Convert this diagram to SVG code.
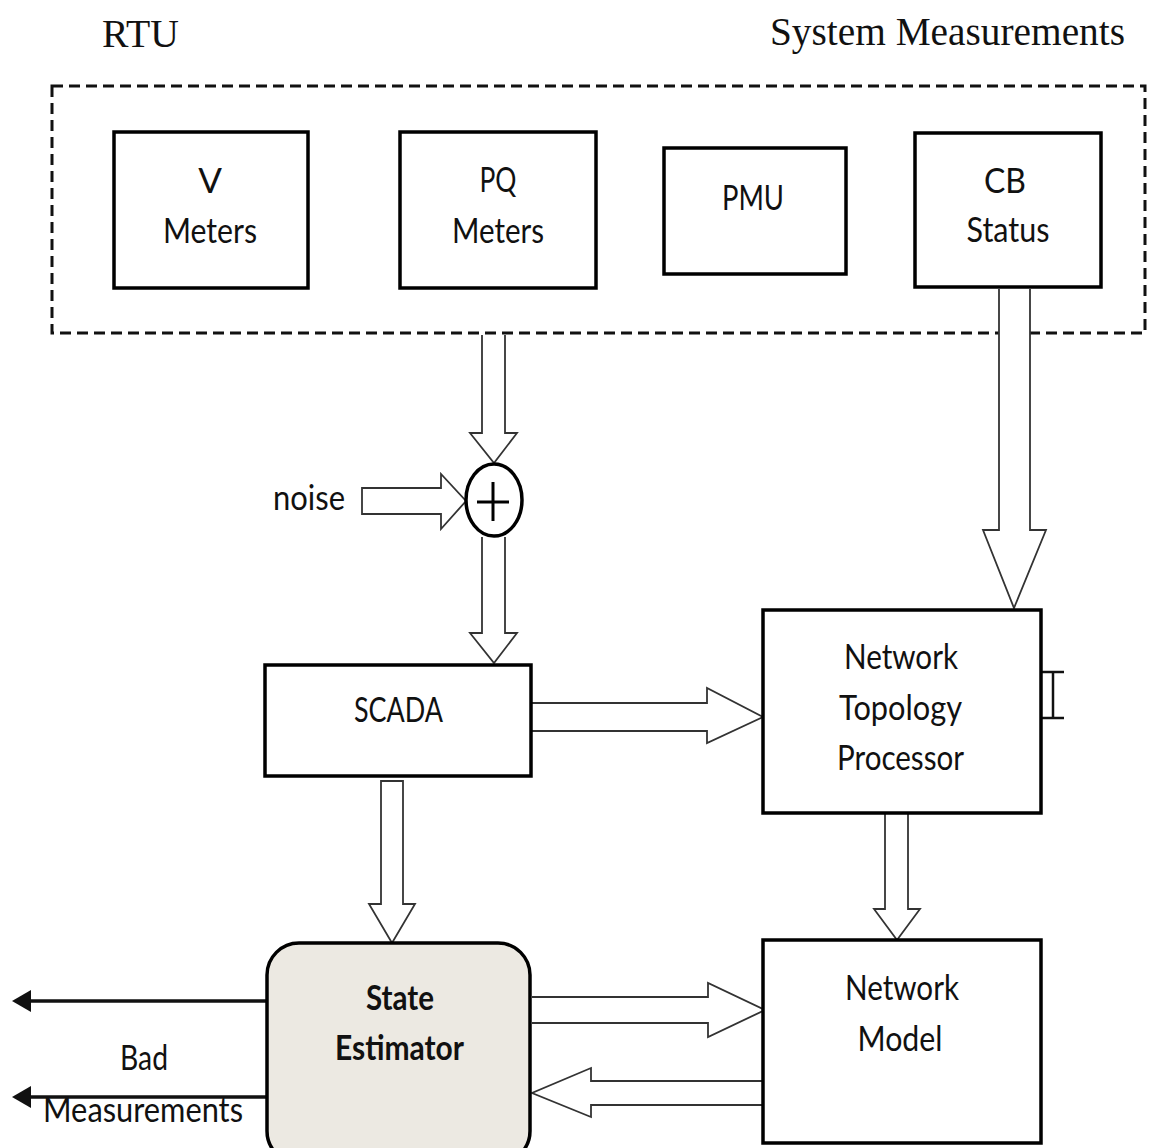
<svg xmlns="http://www.w3.org/2000/svg" width="1151" height="1148" viewBox="0 0 1151 1148">
<style>
.box{fill:#fff;stroke:#000;stroke-width:3.5}
.se{fill:#ece9e2;stroke:#000;stroke-width:3.5}
.blk{fill:#fff;stroke:#333;stroke-width:1.8;stroke-linejoin:miter}
.lbl{font-family:Lato,"Open Sans","Liberation Sans",sans-serif;font-size:35px;fill:#111;text-anchor:middle}
.bold{font-weight:bold}
.ttl{font-family:"Liberation Serif","Times New Roman",serif;font-size:41px;fill:#111}
.thin{stroke:#111;stroke-width:3.5;fill:none}
</style>
<rect width="1151" height="1148" fill="#fff"/>
<text class="ttl" x="102" y="47" textLength="77" lengthAdjust="spacingAndGlyphs">RTU</text>
<text class="ttl" x="770" y="45" textLength="355" lengthAdjust="spacingAndGlyphs">System Measurements</text>
<rect id="rtu-group" x="52" y="86" width="1093" height="247" fill="none" stroke="#111" stroke-width="3" stroke-dasharray="11 6"/>
<g id="connectors">
<polyline class="blk" points="999,289 999,530 983,530 1014,608 1046,530 1030,530 1030,289"/>
<polyline class="blk" points="482,335 482,433 470,433 494,463 517,433 505,433 505,335"/>
<polygon class="blk" points="362,488 441,488 441,474 466,501 441,529 441,514 362,514"/>
<polyline class="blk" points="482,537 482,633 470,633 494,663 517,633 505,633 505,537"/>
<polygon class="blk" points="381,781 403,781 403,904 415,904 392,943 369,904 381,904"/>
<polyline class="blk" points="532,703 707,703 707,688 763,717 707,743 707,731 532,731"/>
<polyline class="blk" points="885,813 885,909 874,909 897,940 920,909 908,909 908,813"/>
<polyline class="blk" points="532,997 708,997 708,983 765,1010 708,1037 708,1023 532,1023"/>
<polyline class="blk" points="765,1081 591,1081 591,1068 532,1093 591,1117 591,1105 765,1105"/>
<line x1="766" y1="1081" x2="766" y2="1105" stroke="#000" stroke-width="4"/>
<line class="thin" x1="267" y1="1001" x2="28" y2="1001"/>
<polygon points="12,1001 31,990 31,1012" fill="#111"/>
<line class="thin" x1="267" y1="1097" x2="28" y2="1097"/>
<polygon points="12,1097 31,1086 31,1108" fill="#111"/>
<g stroke="#111" stroke-width="2.5" fill="none">
<line x1="1041" y1="672" x2="1064" y2="672"/>
<line x1="1041" y1="718" x2="1064" y2="718"/>
<line x1="1053" y1="672" x2="1053" y2="718"/>
</g>
</g>
<g id="v-meters">
<rect class="box" x="114" y="132" width="194" height="156"/>
<text class="lbl" x="210" y="193">V</text>
<text class="lbl" x="210" y="243" textLength="94" lengthAdjust="spacingAndGlyphs">Meters</text>
</g>
<g id="pq-meters">
<rect class="box" x="400" y="132" width="196" height="156"/>
<text class="lbl" x="498" y="192" textLength="37" lengthAdjust="spacingAndGlyphs">PQ</text>
<text class="lbl" x="498" y="243" textLength="92" lengthAdjust="spacingAndGlyphs">Meters</text>
</g>
<g id="pmu">
<rect class="box" x="664" y="148" width="182" height="126"/>
<text class="lbl" x="753" y="210" textLength="62" lengthAdjust="spacingAndGlyphs">PMU</text>
</g>
<g id="cb-status">
<rect class="box" x="915" y="133" width="186" height="154"/>
<text class="lbl" x="1005" y="193" textLength="42" lengthAdjust="spacingAndGlyphs">CB</text>
<text class="lbl" x="1008" y="242" textLength="83" lengthAdjust="spacingAndGlyphs">Status</text>
</g>
<g id="adder">
<ellipse cx="494" cy="500" rx="28" ry="36" fill="#fff" stroke="#000" stroke-width="3.5"/>
<line x1="477" y1="502" x2="509" y2="502" stroke="#000" stroke-width="3"/>
<line x1="493" y1="482" x2="493" y2="521" stroke="#000" stroke-width="3"/>
</g>
<g id="noise">
<text class="lbl" x="309" y="510" textLength="72" lengthAdjust="spacingAndGlyphs">noise</text>
</g>
<g id="scada">
<rect class="box" x="265" y="665" width="266" height="111"/>
<text class="lbl" x="398.5" y="722" textLength="89" lengthAdjust="spacingAndGlyphs">SCADA</text>
</g>
<g id="ntp">
<rect class="box" x="763" y="610" width="278" height="203"/>
<text class="lbl" x="901" y="669" textLength="114" lengthAdjust="spacingAndGlyphs">Network</text>
<text class="lbl" x="900.5" y="720" textLength="123" lengthAdjust="spacingAndGlyphs">Topology</text>
<text class="lbl" x="900.5" y="770" textLength="127" lengthAdjust="spacingAndGlyphs">Processor</text>
</g>
<g id="network-model">
<rect class="box" x="763" y="940" width="278" height="203"/>
<text class="lbl" x="902" y="1000" textLength="114" lengthAdjust="spacingAndGlyphs">Network</text>
<text class="lbl" x="900" y="1051" textLength="85" lengthAdjust="spacingAndGlyphs">Model</text>
</g>
<g id="state-estimator">
<rect class="se" x="267" y="943" width="263" height="220" rx="32" ry="32"/>
<text class="lbl bold" x="400" y="1010" textLength="68" lengthAdjust="spacingAndGlyphs">State</text>
<text class="lbl bold" x="399.5" y="1060" textLength="129" lengthAdjust="spacingAndGlyphs">Estimator</text>
</g>
<g id="bad-measurements">
<text class="lbl" x="144" y="1070" textLength="48" lengthAdjust="spacingAndGlyphs">Bad</text>
<text class="lbl" x="143" y="1122" textLength="200" lengthAdjust="spacingAndGlyphs">Measurements</text>
</g>
</svg>
